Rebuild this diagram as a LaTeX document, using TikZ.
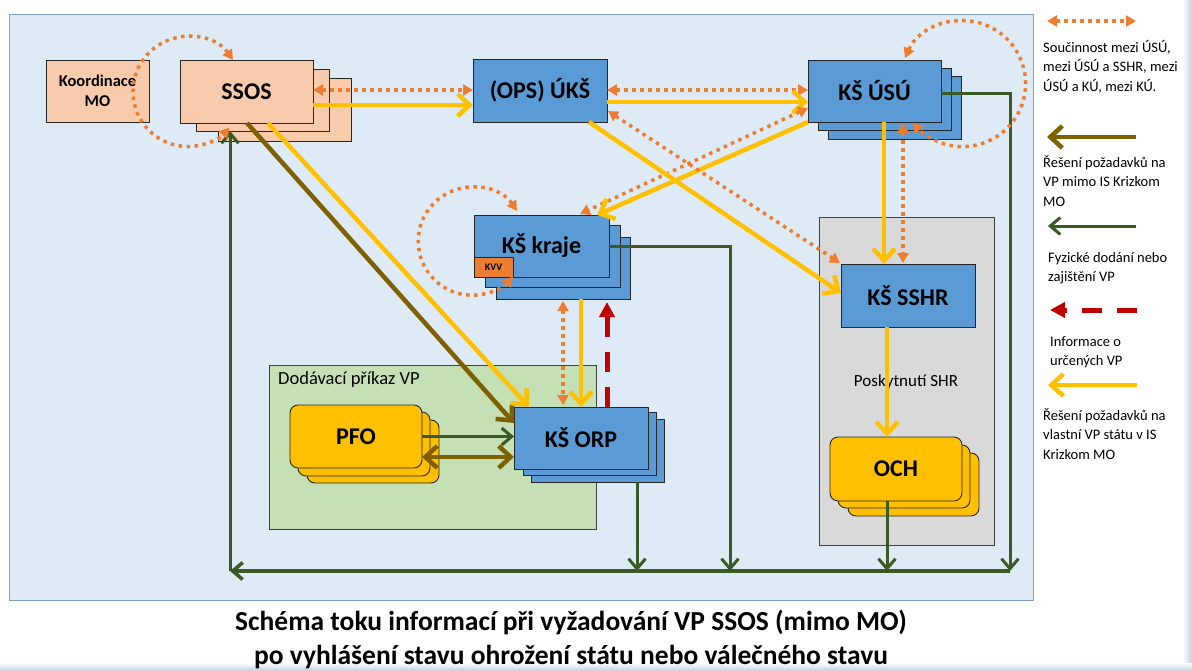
\documentclass[tikz,border=0pt]{standalone}
\usepackage{fontspec}
\setmainfont{Carlito}
\usetikzlibrary{arrows.meta,calc}
\definecolor{panelbg}{HTML}{DEEBF7}
\definecolor{panelbd}{HTML}{7EA0C8}
\definecolor{peach}{HTML}{F8CBAD}
\definecolor{bluebox}{HTML}{5B9BD5}
\definecolor{yel}{HTML}{FFC000}
\definecolor{orng}{HTML}{ED7D31}
\definecolor{greenarea}{HTML}{C5E0B4}
\definecolor{grayarea}{HTML}{D9D9D9}
\definecolor{dgreen}{HTML}{3A5A25}
\definecolor{brn}{HTML}{7F6000}
\definecolor{dred}{HTML}{C00000}
\definecolor{edgeshade}{HTML}{C9D2E3}
\begin{document}
\begin{tikzpicture}[x=1pt,y=-1pt,
  box/.style={draw=black!85, line width=0.9pt, inner sep=0pt, outer sep=0pt, align=center,
    font=\bfseries\fontsize{24}{26}\selectfont},
  pbox/.style={box, fill=peach},
  bbox/.style={box, fill=bluebox},
  ybox/.style={box, fill=yel, rounded corners=8pt},
  area/.style={draw=black!75, line width=0.8pt, inner sep=0pt, outer sep=0pt},
  ya/.style={draw=yel, line width=4.5pt, -{Straight Barb[length=12pt,width=22pt]}},
  ba/.style={draw=brn, line width=4.5pt, -{Straight Barb[length=12pt,width=22pt]}},
  bab/.style={draw=brn, line width=4.5pt, {Straight Barb[length=12pt,width=22pt]}-{Straight Barb[length=12pt,width=22pt]}},
  ga/.style={draw=dgreen, line width=3pt, -{Straight Barb[length=10pt,width=17pt]}},
  gl/.style={draw=dgreen, line width=3.5pt},
  od/.style={draw=orng, line width=3.5pt, dash pattern=on 3.5pt off 4.5pt,
    {Triangle[length=10pt,width=11pt]}-{Triangle[length=10pt,width=11pt]}},
  ra/.style={draw=dred, line width=5pt, dash pattern=on 20pt off 15pt, -{Triangle[length=15pt,width=15pt]}},
  legtext/.style={anchor=north west, inner sep=0pt, align=left, font=\fontsize{14.5}{19.5}\selectfont},
]
\useasboundingbox (0,0) rectangle (1192,670);
\fill[white] (0,0) rectangle (1192,670);
\shade[left color=white, right color=edgeshade] (1182,0) rectangle (1192,670);
\shade[top color=white, bottom color=edgeshade] (0,663) rectangle (1192,670);

% main panel
\node[draw=panelbd, fill=panelbg, line width=0.8pt, inner sep=0pt, minimum width=1024pt, minimum height=586pt] (panel) at (521,307) {};

% areas
\node[area, fill=grayarea, minimum width=175pt, minimum height=328pt] (shr) at (906.5,381) {};
\node[font=\fontsize{17}{20}\selectfont, inner sep=0pt] (shrl) at (906,382) {Poskytnutí SHR};
\node[area, fill=greenarea, minimum width=327pt, minimum height=164pt] (dod) at (432.5,447) {};
\node[anchor=west, font=\fontsize{18.5}{22}\selectfont, inner sep=0pt] (dodl) at (278,380) {Dodávací příkaz VP};

% boxes
\node[pbox, minimum width=103pt, minimum height=62pt, font=\bfseries\fontsize{16.5}{20}\selectfont] (koord) at (97.5,91) {Koordinace\\MO};
\node[pbox, minimum width=133pt, minimum height=63pt] (ssos3) at (284.5,109.5) {};
\node[pbox, minimum width=133pt, minimum height=62pt] (ssos2) at (262.5,100) {};
\node[pbox, minimum width=133pt, minimum height=63pt] (ssos) at (246.5,91.5) {SSOS};

\node[bbox, minimum width=134pt, minimum height=63pt] (uks) at (540,90.5) {(OPS) ÚKŠ};

\node[bbox, minimum width=133pt, minimum height=63pt] (usu3) at (894.5,107.5) {};
\node[bbox, minimum width=133pt, minimum height=62pt] (usu2) at (884.5,99) {};
\node[bbox, minimum width=133pt, minimum height=62pt] (usu) at (874.5,91) {KŠ ÚSÚ};

\node[bbox, minimum width=134pt, minimum height=62pt] (kraje3) at (563,268) {};
\node[bbox, minimum width=135pt, minimum height=62pt] (kraje2) at (552.5,256) {};
\node[bbox, minimum width=135pt, minimum height=62pt] (kraje) at (541.5,246) {KŠ kraje};
\node[box, fill=orng, minimum width=39pt, minimum height=20pt, font=\bfseries\fontsize{10}{11}\selectfont] (kvv) at (493.5,267) {KVV};

\node[ybox, minimum width=132pt, minimum height=63pt] (pfo3) at (373,451.5) {};
\node[ybox, minimum width=132pt, minimum height=64pt] (pfo2) at (364,444) {};
\node[ybox, minimum width=132pt, minimum height=63pt] (pfo) at (356,436.5) {PFO};

\node[bbox, minimum width=133pt, minimum height=63pt] (orp3) at (597.5,450.5) {};
\node[bbox, minimum width=133pt, minimum height=63pt] (orp2) at (589.5,443.5) {};
\node[bbox, minimum width=134pt, minimum height=62pt] (orp) at (581,438) {KŠ ORP};

\node[bbox, minimum width=134pt, minimum height=63pt] (sshr) at (908,295.5) {KŠ SSHR};

\node[ybox, minimum width=131pt, minimum height=63pt] (och3) at (913.5,484.5) {};
\node[ybox, minimum width=132pt, minimum height=63pt] (och2) at (904,476.5) {};
\node[ybox, minimum width=132pt, minimum height=64pt] (och) at (896,469) {OCH};

% bus coordinates
\coordinate (busL) at (230,571);
\coordinate (bus1) at (637,571);
\coordinate (bus2) at (730,571);
\coordinate (bus3) at (887,571);
\coordinate (busR) at (1010,571);
\coordinate (usuE) at ($(usu.east)+(0,2)$);

% green delivery lines
\draw[ga] ($(orp3.south)+(39.5,0)$) -- (bus1);
\draw[ga] (kraje.east) -- (kraje.east -| bus2) -- (bus2);
\draw[ga] ($(och.south)+(-9,0)$) -- (bus3);
\draw[ga] (usuE) -- (usuE -| busR) -- (busR);
\draw[gl, -{Straight Barb[length=10pt,width=17pt]}] (busR) -- (busL);
\draw[ga] (busL) -- ($(ssos2.south)+(-32.5,0)$);
\draw[ga] (pfo.east) -- ($(orp.west)+(0,-1.5)$);
\draw[bab] ($(pfo.east)+(0,20.5)$) -- ($(orp.west)+(0,19)$);

% SSOS outgoing
\draw[ba] ($(ssos.south)+(0.5,0)$) -- ($(orp.west)+(0,-15)$);
\draw[ya] ($(ssos.south)+(21.5,0)$) -- ($(orp.north)+(-52,0)$);
\draw[od] ($(ssos.east)+(0,-1.5)$) -- ($(uks.west)+(0,-0.5)$);
\draw[ya] ($(ssos.east)+(0,13.5)$) -- ($(uks.west)+(0,14.5)$);

% UKS - USU
\draw[od] ($(uks.east)+(0,-0.5)$) -- ($(usu.west)+(0,-1)$);
\draw[ya] ($(uks.east)+(0,11.5)$) -- ($(usu.west)+(0,11)$);

% diagonals
\draw[od] ($(usu.west)+(0,17)$) -- ($(kraje.north)+(38.5,-1)$);
\draw[ya] (usu.south west) -- ($(kraje.north)+(55.5,0)$);
\draw[ya] ($(uks.south)+(49,0)$) -- ($(sshr.west)+(0,-2.5)$);
\draw[od] ($(uks.east)+(1,20.5)$) -- ($(sshr.north west)+(-1,-1)$);

% USU - SSHR
\draw[ya] ($(usu.south)+(9.5,0)$) -- ($(sshr.north)+(-24,0)$);
\draw[od] ($(usu.south)+(28.5,1)$) -- ($(sshr.north)+(-5,-1)$);

% kraje - ORP
\draw[ya] ($(kraje3.south)+(18,0)$) -- (orp.north);
\draw[od] ($(kraje3.south)+(0,2)$) -- ($(orp.north)+(-18,-2)$);
\draw[ra] ($(orp.north)+(26,0)$) -- ($(kraje3.south)+(44,3)$);

% SSHR - OCH
\draw[ya] ($(sshr.south)+(-21,0)$) -- ($(och.north)+(-9,0)$);

% self loops
\draw[od] ($(ssos.north)+(-13.5,0)$) arc[start angle=-35, end angle=-319, radius=55];
\draw[od] ($(usu.north)+(30.5,-2)$) arc[start angle=-156, end angle=142, radius=63];
\draw[od] ($(kraje.north)+(-24.5,-4)$) arc[start angle=-34, end angle=-319, radius=54];

% legend
\coordinate (lg1a) at (1047,21); \coordinate (lg1b) at (1136,21);
\coordinate (lg2a) at (1136,137); \coordinate (lg2b) at (1047,137);
\coordinate (lg3a) at (1136,226); \coordinate (lg3b) at (1048,226);
\coordinate (lg4a) at (1137,310); \coordinate (lg4b) at (1050,310);
\coordinate (lg5a) at (1137,385); \coordinate (lg5b) at (1048,385);
\draw[od] (lg1a) -- (lg1b);
\draw[ba] (lg2a) -- (lg2b);
\draw[ga] (lg3a) -- (lg3b);
\draw[ra] (lg4a) -- (lg4b);
\draw[ya] (lg5a) -- (lg5b);
\node[legtext] (lt1) at (1043,40) {Součinnost mezi ÚSÚ,\\mezi ÚSÚ a SSHR, mezi\\ÚSÚ a KÚ, mezi KÚ.};
\node[legtext] (lt2) at (1043,155) {Řešení požadavků na\\VP mimo IS Krizkom\\MO};
\node[legtext] (lt3) at (1048,252) {Fyzické dodání nebo\\zajištění VP};
\node[legtext] (lt4) at (1050,336) {Informace o\\určených VP};
\node[legtext] (lt5) at (1043,408) {Řešení požadavků na\\vlastní VP státu v IS\\Krizkom MO};

% title
\node[align=center, inner sep=0pt, font=\bfseries\fontsize{27.5}{34}\selectfont] (title) at (571,639)
  {Schéma toku informací při vyžadování VP SSOS (mimo MO)\\po vyhlášení stavu ohrožení státu nebo válečného stavu};
\end{tikzpicture}
\end{document}
